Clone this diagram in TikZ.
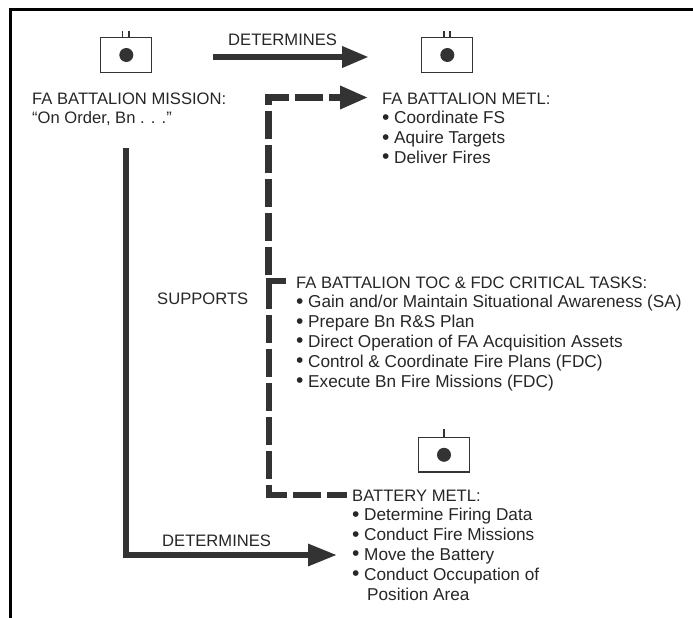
\documentclass[tikz,border=0pt]{standalone}
\usepackage{fontspec}
\setmainfont{Liberation Sans}
\usetikzlibrary{arrows.meta}
\definecolor{ink}{gray}{0.2}
\definecolor{txt}{gray}{0.15}
\newcommand\bul{\makebox[12pt][l]{\raisebox{-0.5pt}{\fontsize{21}{21}\selectfont •}}}
\newcommand\itm[1]{\hbox{\fontsize{17.2}{20}\selectfont\bul #1}}
\newcommand\stk[1]{\vtop{\baselineskip=19.8pt\lineskiplimit=-20pt #1}}
\tikzset{
  x=1pt,y=-1pt,
  lbl/.style={inner sep=0pt,anchor=base west,text=txt,font=\fontsize{16.6}{20}\selectfont},
  solidarrow/.style={draw=ink,line width=6.5pt,-{Triangle[length=27pt,width=20pt]}},
  solidbent/.style={draw=ink,line width=6pt,-{Triangle[length=29pt,width=21pt]}},
  dashup/.style={draw=ink,line width=6.5pt,dash pattern=on 28pt off 6pt,dash phase=28pt,-{Triangle[length=28pt,width=22pt]}},
  dashdown/.style={draw=ink,line width=6pt,dash pattern=on 28pt off 6pt},
  junction/.style={draw=ink,line width=6pt},
  symbox/.style={draw=ink,line width=1.3pt,minimum width=51pt,minimum height=34.5pt,inner sep=0pt},
  symdot/.style={circle,fill=ink,minimum size=14pt,inner sep=0pt},
  tick/.style={draw=ink,line width=1.1pt},
  frameline/.style={draw=black,line width=2.6pt}
}
\begin{document}
\begin{tikzpicture}
\useasboundingbox (0,0) rectangle (693,618);
\draw[frameline] (10.3,618) -- (10.3,9.3) -- (693,9.3);
% symbols
\node[symbox] (s1) at (126.3,55) {}; \node[symdot] (d1) at (s1.center) {};
\draw[tick] (122.7,31) -- (122.7,38); \draw[tick] (129,31) -- (129,38);
\node[symbox] (s2) at (447.3,55) {}; \node[symdot] (d2) at (s2.center) {};
\draw[tick] (444,31) -- (444,38); \draw[tick] (450,31) -- (450,38);
\node[symbox] (s3) at (444,454.8) {}; \node[symdot] (d3) at (s3.center) {};
\draw[tick] (444,429) -- (444,437);
% text
\node[lbl] (mission) at (32,104) {\stk{\hbox{FA BATTALION MISSION:}\hbox{“On Order, Bn . . .”}}};
\node[lbl] (det1) at (228,46) {DETERMINES};
\node[lbl] (metl) at (382,104) {\stk{\hbox{FA BATTALION METL:}\itm{Coordinate FS}\itm{Aquire Targets}\itm{Deliver Fires}}};
\node[lbl] (supports) at (157,304) {SUPPORTS};
\node[lbl] (toc) at (296,288) {\stk{\hbox{FA BATTALION TOC \& FDC CRITICAL TASKS:}\itm{Gain and/or Maintain Situational Awareness (SA)}\itm{Prepare Bn R\&S Plan}\itm{Direct Operation of FA Acquisition Assets}\itm{Control \& Coordinate Fire Plans (FDC)}\itm{Execute Bn Fire Missions (FDC)}}};
\node[lbl] (batt) at (352,501) {\stk{\hbox{BATTERY METL:}\itm{Determine Firing Data}\itm{Conduct Fire Missions}\itm{Move the Battery}\itm{Conduct Occupation of}\hbox{\fontsize{17.2}{20}\selectfont\hspace{15pt}Position Area}}};
\node[lbl] (det2) at (162,546) {DETERMINES};
% connectors
\coordinate (a1s) at (213,57); \coordinate (a1e) at (369,57);
\draw[solidarrow] (a1s) -- (a1e);
\coordinate (ms) at (125.5,148); \coordinate (mc) at (125.5,555); \coordinate (me) at (337,555);
\draw[solidbent] (ms) -- (mc) -- (me);
\coordinate (j) at (268.5,281); \coordinate (jt) at (268.5,278); \coordinate (jr) at (286,280.5);
\coordinate (ct) at (268.5,97.5); \coordinate (te) at (368,97.5);
\coordinate (cb) at (268.5,494.5); \coordinate (be) at (347,494.5);
\draw[dashup] (j) -- (ct) -- (te);
\draw[junction] (jt) -- (268.5,281) ; \draw[junction] (265.5,280.5) -- (jr);
\draw[dashdown] (j) -- (cb) -- (be);
\end{tikzpicture}
\end{document}
